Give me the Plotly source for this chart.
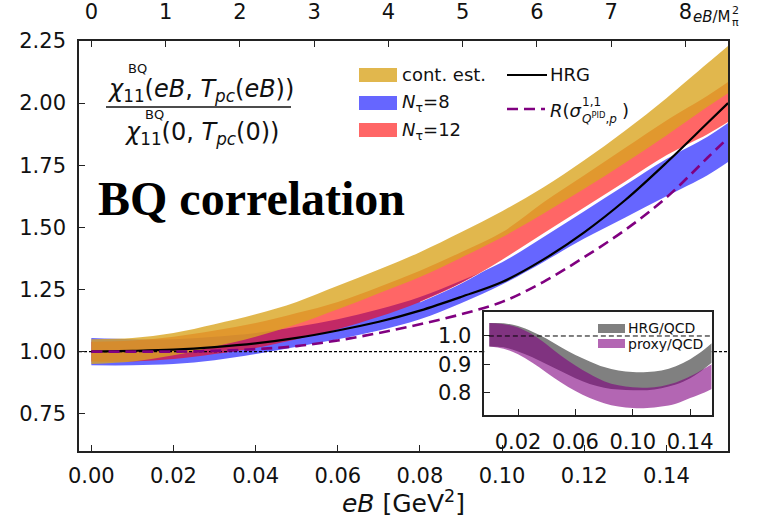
import plotly.graph_objects as go

# ---------------- data ----------------
EB = [0.0, 0.01, 0.02, 0.03, 0.04, 0.05, 0.06, 0.07, 0.08, 0.09, 0.10,
      0.11, 0.12, 0.13, 0.14, 0.15, 0.155]

CONT_HI = [1.05, 1.055, 1.075, 1.11, 1.15, 1.20, 1.265, 1.33, 1.40, 1.48, 1.565,
           1.66, 1.77, 1.89, 2.02, 2.16, 2.23]
CONT_LO = [0.95, 0.96, 0.985, 1.02, 1.06, 1.11, 1.17, 1.235, 1.30, 1.378, 1.46,
           1.555, 1.655, 1.76, 1.87, 1.985, 2.04]

NT12_HI = [1.04, 1.045, 1.06, 1.085, 1.115, 1.155, 1.20, 1.26, 1.325, 1.40, 1.48,
           1.60, 1.71, 1.82, 1.93, 2.03, 2.085]
NT12_LO = [0.96, 0.96, 0.97, 0.99, 1.015, 1.05, 1.09, 1.14, 1.20, 1.275, 1.37,
           1.475, 1.58, 1.685, 1.79, 1.875, 1.924]

NT8_HI = [1.055, 1.05, 1.05, 1.06, 1.075, 1.10, 1.13, 1.17, 1.22, 1.285, 1.36,
          1.46, 1.565, 1.67, 1.775, 1.865, 1.92]
NT8_LO = [0.945, 0.945, 0.95, 0.965, 0.99, 1.02, 1.05, 1.085, 1.13, 1.195, 1.27,
          1.36, 1.455, 1.54, 1.625, 1.71, 1.763]

HRG = [1.0, 1.003, 1.008, 1.018, 1.033, 1.055, 1.085, 1.12, 1.165, 1.22, 1.28,
       1.37, 1.48, 1.61, 1.76, 1.92, 2.0]
PROXY = [1.0, 1.0, 1.0, 1.003, 1.01, 1.022, 1.045, 1.075, 1.11, 1.15, 1.20,
         1.28, 1.38, 1.49, 1.62, 1.78, 1.86]

# inset ratios
HRGQCD_HI = [1.046, 1.045, 1.035, 1.015, 0.99, 0.96, 0.933, 0.91, 0.89, 0.878, 0.872,
             0.872, 0.878, 0.893, 0.918, 0.953, 0.974]
HRGQCD_LO = [0.963, 0.96, 0.945, 0.925, 0.90, 0.875, 0.85, 0.83, 0.817, 0.81, 0.808,
             0.808, 0.815, 0.828, 0.85, 0.885, 0.905]
PROXYQCD_HI = [1.046, 1.042, 1.03, 1.005, 0.97, 0.93, 0.895, 0.865, 0.84, 0.825, 0.818,
               0.817, 0.822, 0.835, 0.857, 0.885, 0.90]
PROXYQCD_LO = [0.963, 0.955, 0.935, 0.905, 0.87, 0.835, 0.805, 0.78, 0.762, 0.75, 0.745,
               0.745, 0.75, 0.76, 0.78, 0.80, 0.812]

X_RANGE = [-0.003, 0.155]
Y_RANGE = [0.6, 2.25]
X_TICKS = [0.0, 0.02, 0.04, 0.06, 0.08, 0.10, 0.12, 0.14]
Y_TICKS = [0.75, 1.0, 1.25, 1.5, 1.75, 2.0, 2.25]
MPI2 = 0.01808
TOP_TICKS = [0, 1, 2, 3, 4, 5, 6, 7, 8]
INSET_X_RANGE = [-0.0035, 0.155]
INSET_Y_RANGE = [0.72, 1.085]
INSET_X_TICKS = [0.02, 0.06, 0.10, 0.14]
INSET_Y_TICKS = [0.8, 0.9, 1.0]

GOLD = "rgba(218,165,32,0.8)"
RED = "rgba(255,0,0,0.6)"
BLUE = "rgba(0,0,255,0.6)"
GRAY = "rgb(128,128,128)"
PURPLE = "rgba(128,0,128,0.6)"
FONT = "DejaVu Sans"

# ---------------- geometry ----------------
W, H = 762, 518
ML, MR, MT, MB = 79, 34, 41, 67
PW, PH = W - ML - MR, H - MT - MB


def px(x):
    return (x - ML) / PW


def py(y):
    return (H - MB - y) / PH


fig = go.Figure()


def band(lo, hi, color, xa="x", ya="y", name=""):
    fig.add_trace(go.Scatter(x=EB, y=lo, mode="lines", line=dict(width=0, shape="spline"),
                             xaxis=xa, yaxis=ya, showlegend=False, hoverinfo="skip"))
    fig.add_trace(go.Scatter(x=EB, y=hi, mode="lines", line=dict(width=0, shape="spline"),
                             fill="tonexty", fillcolor=color, name=name,
                             xaxis=xa, yaxis=ya, showlegend=False))


band(NT8_LO, NT8_HI, BLUE, name="Nτ=8")
fig.add_trace(go.Scatter(x=EB[8:], y=NT12_LO[8:], mode="lines",
                         line=dict(color="white", width=1, shape="spline"),
                         showlegend=False, hoverinfo="skip"))
band(NT12_LO, NT12_HI, RED, name="Nτ=12")
band(CONT_LO, CONT_HI, GOLD, name="cont. est.")

fig.add_trace(go.Scatter(x=X_RANGE, y=[1, 1], mode="lines",
                         line=dict(color="black", width=1.3, dash="3px,2px"),
                         showlegend=False, hoverinfo="skip"))
fig.add_trace(go.Scatter(x=EB, y=HRG, mode="lines", name="HRG",
                         line=dict(color="black", width=2.2, shape="spline"), showlegend=False))
fig.add_trace(go.Scatter(x=EB, y=PROXY, mode="lines", name="R",
                         line=dict(color="rgb(128,0,128)", width=2.6, dash="11px,6px", shape="spline"),
                         showlegend=False))
# top axis carrier
fig.add_trace(go.Scatter(x=[], y=[], xaxis="x2", yaxis="y", showlegend=False))

# inset
band(HRGQCD_LO, HRGQCD_HI, GRAY, "x3", "y3", "HRG/QCD")
band(PROXYQCD_LO, PROXYQCD_HI, PURPLE, "x3", "y3", "proxy/QCD")

ax_common = dict(showline=True, linecolor="#222", linewidth=1.6, ticks="inside",
                 ticklen=6, tickwidth=1.4, tickcolor="#222", showgrid=False, zeroline=False,
                 tickfont=dict(family=FONT, size=21, color="#111"))

fig.update_layout(
    width=W, height=H, margin=dict(l=ML, r=MR, t=MT, b=MB, autoexpand=False),
    paper_bgcolor="white", plot_bgcolor="white", showlegend=False,
    xaxis=dict(range=X_RANGE, tickvals=X_TICKS, ticktext=[f"{v:.2f}" for v in X_TICKS],
               mirror=True, ticklabelstandoff=5, domain=[0, 1], anchor="y",
               title=dict(text="<i>eB</i> [GeV<sup>2</sup>]", standoff=6,
                          font=dict(family=FONT, size=25, color="#111")), **ax_common),
    xaxis2=dict(range=X_RANGE, overlaying="x", side="top", anchor="y",
                tickvals=[n * MPI2 for n in TOP_TICKS], ticktext=[str(n) for n in TOP_TICKS],
                ticklabelstandoff=12, **ax_common),
    yaxis=dict(range=Y_RANGE, tickvals=Y_TICKS, ticktext=[f"{v:.2f}" for v in Y_TICKS],
               mirror=True, ticklabelstandoff=7, domain=[0, 1], anchor="x", **ax_common),
    xaxis3=dict(range=INSET_X_RANGE, tickvals=INSET_X_TICKS,
                ticktext=[f"{v:.2f}" for v in INSET_X_TICKS], mirror=True,
                domain=[px(484.3), px(711.7)], anchor="y3", ticklabelstandoff=7, **ax_common),
    yaxis3=dict(range=INSET_Y_RANGE, tickvals=INSET_Y_TICKS,
                ticktext=[f"{v:.1f}" for v in INSET_Y_TICKS], mirror=True,
                domain=[py(415), py(312)], anchor="x3", ticklabelstandoff=7, **ax_common),
)

shapes = []
annos = []


def rect(x0, x1, y0, y1, color):
    shapes.append(dict(type="rect", xref="paper", yref="paper", x0=px(x0), x1=px(x1),
                       y0=py(y1), y1=py(y0), fillcolor=color, line=dict(width=0)))


def text(x, y, s, size, anchor="left", family=FONT, color="#111"):
    annos.append(dict(xref="paper", yref="paper", x=px(x), y=py(y), text=s, showarrow=False,
                      xanchor=anchor, yanchor="middle", borderpad=0,
                      font=dict(family=family, size=size, color=color)))


# inset dashed line at 1
shapes.append(dict(type="line", xref="x3 domain", yref="y3", x0=0.02, x1=1, y0=1, y1=1,
                   line=dict(color="black", width=1, dash="5px,3px")))

# main legend
rect(359, 397, 68, 82, GOLD)
rect(359, 397, 96, 110, BLUE)
rect(359, 397, 123, 137, RED)
text(401, 75, "cont. est.", 18)
text(401, 103, "<i>N</i><sub>τ</sub>=8", 18)
text(401, 131, "<i>N</i><sub>τ</sub>=12", 18)
shapes.append(dict(type="line", xref="paper", yref="paper", x0=px(507), x1=px(547),
                   y0=py(75), y1=py(75), line=dict(color="black", width=2.2)))
shapes.append(dict(type="line", xref="paper", yref="paper", x0=px(507), x1=px(545),
                   y0=py(109), y1=py(109), line=dict(color="rgb(128,0,128)", width=2.6, dash="11px,6px")))
text(549, 75, "HRG", 18)
text(549, 110, "<i>R</i>(<i>σ</i>", 18)
text(581, 102, "1,1", 12)
text(581, 118, "<i>Q</i><sup>PID</sup>,<i>p</i>", 12)
text(621, 110, ")", 18)

# inset legend
rect(598, 625, 324, 333, GRAY)
rect(598, 625, 339, 348, PURPLE)
text(627, 328, "HRG/QCD", 14)
text(627, 344, "proxy/QCD", 14)

# fraction label
text(106, 90, "<i>χ</i><sub>11</sub>(<i>eB</i>, <i>T</i><sub><i>pc</i></sub>(<i>eB</i>))", 24)
text(127, 69, "BQ", 13)
shapes.append(dict(type="line", xref="paper", yref="paper", x0=px(106), x1=px(291),
                   y0=py(107), y1=py(107), line=dict(color="#111", width=1.5)))
text(123, 133, "<i>χ</i><sub>11</sub>(0, <i>T</i><sub><i>pc</i></sub>(0))", 24)
text(144, 114, "BQ", 13)

# big label
text(97, 198, "<b>BQ correlation</b>", 48, family="Liberation Serif", color="black")

# top axis label
text(692, 17, "<i>eB</i>/M", 15)
text(731, 11, "2", 11)
text(731, 23, "π", 11)

fig.update_layout(shapes=shapes, annotations=annos)
fig.write_html("out.html")
